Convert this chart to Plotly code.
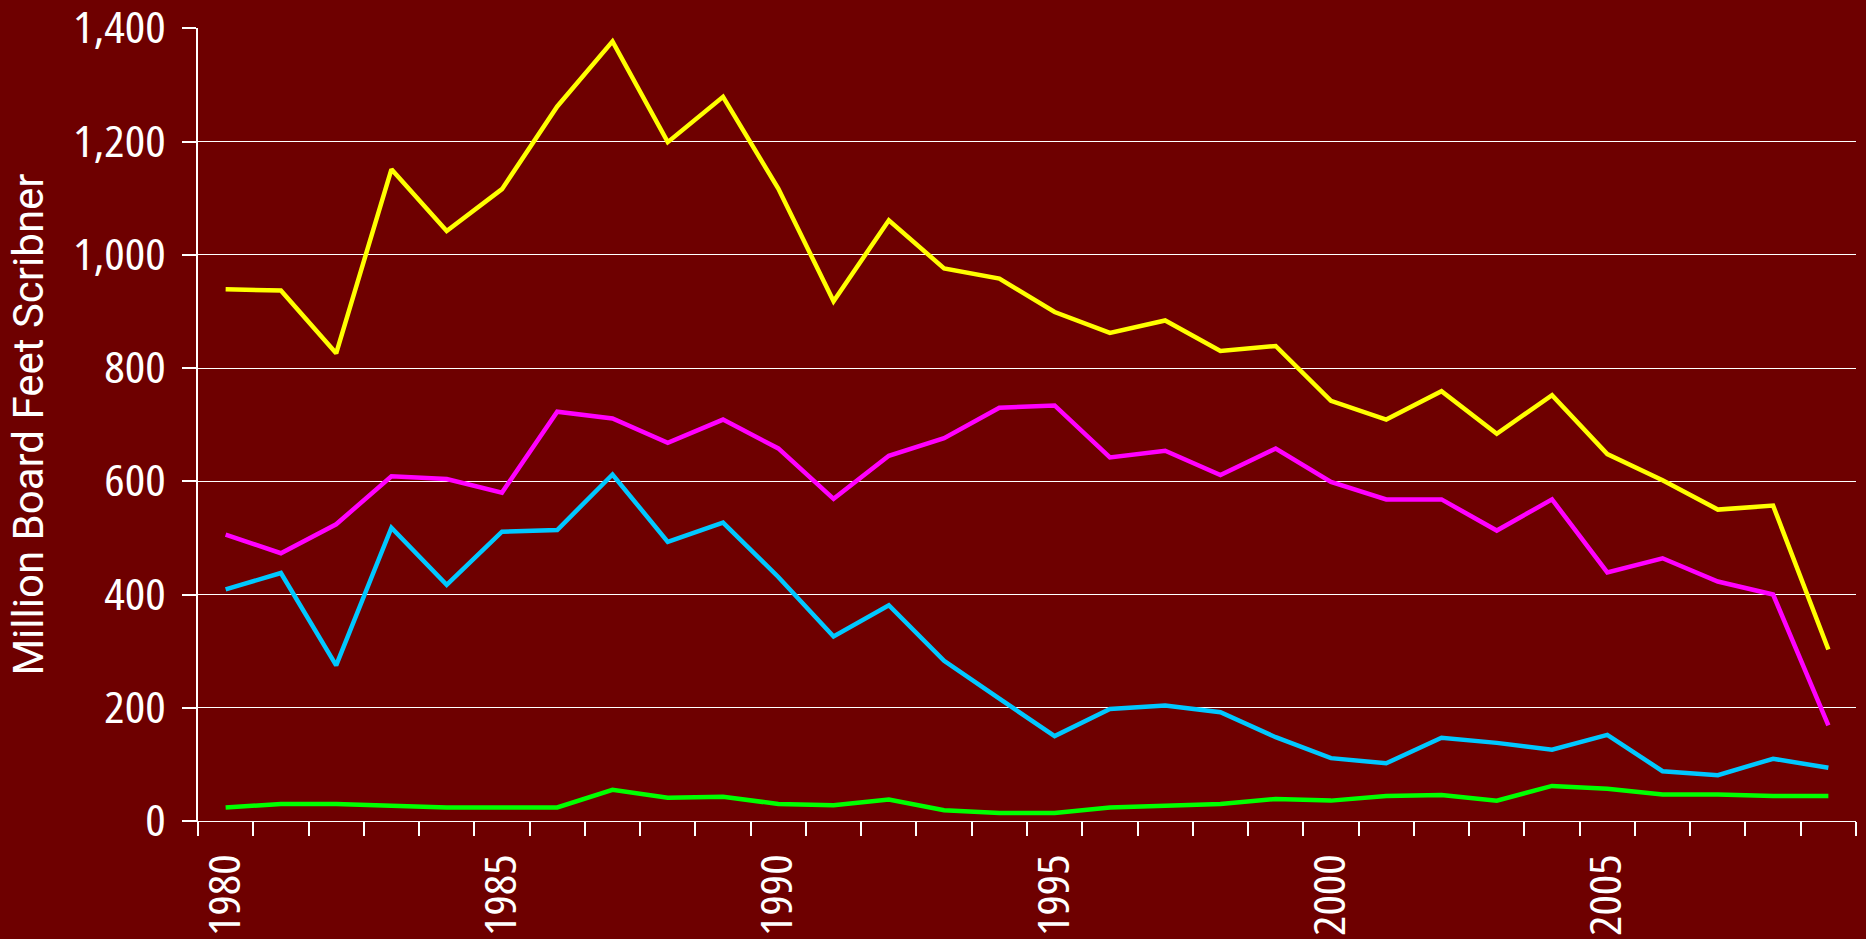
import plotly.graph_objects as go

years = list(range(1980, 2010))

yellow_vals = [939, 937, 826, 1151, 1042, 1116, 1262, 1377, 1199, 1279,
               1117, 918, 1061, 976, 958, 899, 862, 884, 830, 839,
               742, 709, 759, 684, 752, 648, 602, 550, 557, 303]
magenta_vals = [506, 473, 524, 609, 604, 580, 723, 711, 668, 709,
                658, 569, 645, 676, 730, 734, 642, 654, 611, 658,
                599, 568, 568, 513, 568, 439, 464, 423, 400, 169]
cyan_vals = [409, 438, 275, 518, 417, 511, 514, 612, 493, 527,
             431, 326, 381, 283, 216, 150, 198, 204, 192, 148,
             111, 102, 147, 138, 126, 152, 88, 81, 110, 94]
green_vals = [24, 30, 30, 27, 24, 24, 24, 55, 41, 43,
              30, 28, 38, 19, 14, 14, 24, 27, 30, 39,
              36, 44, 46, 36, 62, 57, 47, 47, 44, 44]

label_years = [1980, 1985, 1990, 1995, 2000, 2005]
y_ticks = [0, 200, 400, 600, 800, 1000, 1200, 1400]
y_title = "Million Board Feet Scribner"

BG = "#6E0000"
NARROW = "Open Sans, DejaVu Sans Condensed, sans-serif"

series = [
    ("Series 1", yellow_vals, "#FFFF00"),
    ("Series 2", magenta_vals, "#FF00FF"),
    ("Series 3", cyan_vals, "#00C8FF"),
    ("Series 4", green_vals, "#00FF00"),
]

fig = go.Figure()
for name, vals, col in series:
    fig.add_trace(go.Scatter(x=years, y=vals, mode="lines", name=name,
                             line=dict(color=col, width=4.5), showlegend=False))

fig.update_layout(
    width=1866, height=939,
    paper_bgcolor=BG, plot_bgcolor=BG,
    margin=dict(l=198, r=10, t=28, b=118),
    font=dict(family=NARROW, color="white", size=43),
)

fig.add_annotation(
    text=y_title, textangle=-90, showarrow=False,
    xref="paper", yref="paper", x=-0.1025, y=0.5,
    xanchor="center", yanchor="middle",
    font=dict(family="Roboto, Liberation Sans, sans-serif", size=42, color="white"),
)

fig.update_xaxes(
    range=[years[0] - 0.5, years[-1] + 0.5],
    tickmode="array", tickvals=label_years, ticktext=[str(y) for y in label_years],
    tickangle=-90,
    ticks="outside", ticklen=14, tickcolor="rgba(0,0,0,0)",
    ticklabelstandoff=1,
    ticklabeloverflow="allow",
    minor=dict(tickmode="array", tickvals=[y - 0.5 for y in years] + [years[-1] + 0.5],
               ticks="outside", ticklen=14, tickcolor="white", tickwidth=1.5, showgrid=False),
    showgrid=False, zeroline=False,
    showline=True, linecolor="white", linewidth=1,
    tickfont=dict(family=NARROW, size=43, color="white"),
    automargin=False,
)

fig.update_yaxes(
    range=[0, 1400.6], tickmode="array", tickvals=y_ticks,
    tickformat=",d",
    ticks="outside", ticklen=14, tickcolor="white", tickwidth=1.5,
    ticklabelstandoff=8,
    ticklabeloverflow="allow",
    showgrid=True, gridcolor="white", gridwidth=1,
    zeroline=False,
    showline=True, linecolor="white", linewidth=1.5,
    tickfont=dict(family=NARROW, size=43, color="white"),
    automargin=False,
)

post = """
document.body.style.margin='0';
document.body.style.background='%s';
document.querySelectorAll('.xtick text, .ytick text').forEach(function(t){
  t.style.fontStretch='75%%';
  var w = t.getComputedTextLength();
  if (w > 0) {
    t.setAttribute('textLength', (w * 1.12).toFixed(1));
    t.setAttribute('lengthAdjust', 'spacingAndGlyphs');
  }
});
""" % BG

fig.write_html("out.html", config={"displayModeBar": False}, post_script=post)
